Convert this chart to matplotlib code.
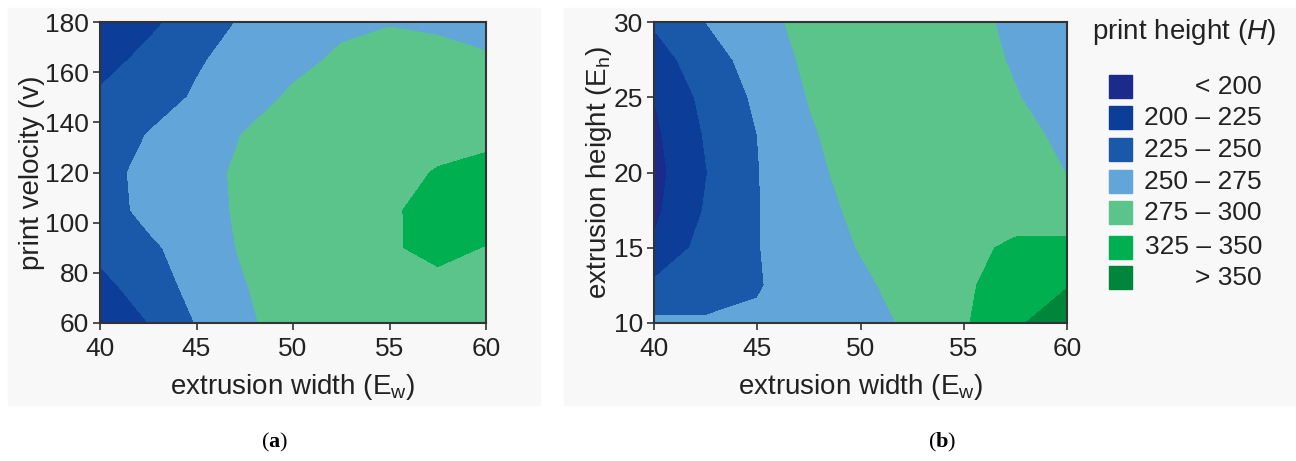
import numpy as np
import matplotlib
matplotlib.use('Agg')
import matplotlib.pyplot as plt
from matplotlib.patches import Rectangle

plt.rcParams['font.family'] = ['Liberation Sans', 'DejaVu Sans']
plt.rcParams['mathtext.fontset'] = 'custom'
plt.rcParams['mathtext.rm'] = 'Liberation Sans'
plt.rcParams['mathtext.it'] = 'Liberation Sans:italic'
plt.rcParams['mathtext.bf'] = 'Liberation Serif:bold'

# grid positions
ew    = [40, 42.5, 45, 47.5, 50, 52.5, 55, 57.5, 60]
vel   = [60, 75, 90, 105, 120, 135, 150, 165, 180]
eh    = [10, 12.5, 15, 17.5, 20, 22.5, 25, 27.5, 30]

# print height estimated at the grid points, rows = vel (panel a)
h_a = [[197, 225, 251, 271, 285, 295, 303, 310, 315],
       [218, 237, 258, 274, 288, 300, 310, 318, 320],
       [232, 245, 262, 278, 293, 305, 322, 332, 324],
       [238, 257, 266, 279, 295, 308, 320, 338, 342],
       [237, 260, 266, 280, 294, 306, 315, 327, 333],
       [234, 251, 263, 276, 290, 300, 307, 314, 318],
       [229, 238, 253, 264, 279, 295, 302, 306, 305],
       [215, 232, 247, 260, 268, 279, 288, 284, 278],
       [198, 219, 238, 253, 262, 270, 273, 270, 265]]

# rows = eh (panel b)
h_b = [[255, 253, 254, 262, 266, 279, 322, 347, 362],
       [230, 238, 248, 263, 271, 283, 320, 340, 349],
       [203, 235, 249, 264, 276, 287, 316, 331, 334],
       [195, 227, 249, 266, 280, 291, 308, 310, 305],
       [192, 224, 249, 269, 284, 294, 304, 297, 274],
       [195, 227, 250, 272, 287, 297, 300, 287, 266],
       [200, 232, 254, 276, 290, 298, 296, 277, 258],
       [213, 240, 259, 280, 292, 299, 291, 271, 254],
       [228, 250, 265, 284, 294, 300, 287, 267, 252]]

levels  = [0, 200, 225, 250, 275, 325, 350, 500]
colours = ['#1b2b8c', '#0c3e99', '#1a59a9', '#62a6d9', '#5bc48b', '#00b050', '#00863a']
labels  = ['< 200', '200 – 225', '225 – 250', '250 – 275', '275 – 300', '325 – 350', '> 350']

W, H = 1296, 461
fig = plt.figure(figsize=(W/100, H/100), dpi=100)

def fx(x): return x/W
def fy(y): return 1 - y/H

# grey panel backgrounds
fig.patches.append(Rectangle((fx(8), fy(405)), fx(540-8), (405-8)/H,
                             transform=fig.transFigure, color='#f8f8f8', zorder=-5))
fig.patches.append(Rectangle((fx(564), fy(405)), fx(W-564), (405-8)/H,
                             transform=fig.transFigure, color='#f8f8f8', zorder=-5))

def panel(left, right, yvals, z, yticks, ylabel):
    ax = fig.add_axes([fx(left), fy(323), fx(right-left), (323-22)/H])
    ax.set_zorder(2)
    X, Y = np.meshgrid(ew, yvals)
    ax.contourf(X, Y, np.array(z), levels=levels, colors=colours)
    ax.set_xlim(40, 60)
    ax.set_ylim(yvals[0], yvals[-1])
    ax.set_xticks([40, 45, 50, 55, 60])
    ax.set_yticks(yticks)
    ax.tick_params(labelsize=19, length=5, width=1.2, colors='#333333', labelcolor='#222222', pad=3)
    ax.tick_params(axis='x', pad=5)
    for s in ax.spines.values():
        s.set_color('#333333')
        s.set_linewidth(1.5)
    ax.set_xlabel(r'extrusion width (E$_\mathrm{w}$)', fontsize=20, color='#222222', labelpad=8)
    ax.set_ylabel(ylabel, fontsize=20, color='#222222', labelpad=0)
    return ax

panel(100, 486, vel, h_a, [60, 80, 100, 120, 140, 160, 180], 'print velocity (v)')
panel(654, 1067, eh, h_b, [10, 15, 20, 25, 30], r'extrusion height (E$_\mathrm{h}$)')

# legend
fig.text(fx(1092), fy(32), r'print height ($\mathit{H}$)', fontsize=20, color='#222222',
         ha='left', va='center')
rows = [87, 118, 150, 182, 213, 247, 278]
for yc, c, lab in zip(rows, colours, labels):
    fig.patches.append(Rectangle((fx(1109), fy(yc+11.5)), fx(23), 23/H,
                                 transform=fig.transFigure, color=c))
    fig.text(fx(1262), fy(yc), lab, fontsize=19, color='#222222', ha='right', va='center')

fig.text(fx(275), fy(442), r'($\mathbf{a}$)', fontsize=16, family='Liberation Serif',
         ha='center', va='center')
fig.text(fx(942), fy(442), r'($\mathbf{b}$)', fontsize=16, family='Liberation Serif',
         ha='center', va='center')

fig.savefig('out.png', dpi=100)
